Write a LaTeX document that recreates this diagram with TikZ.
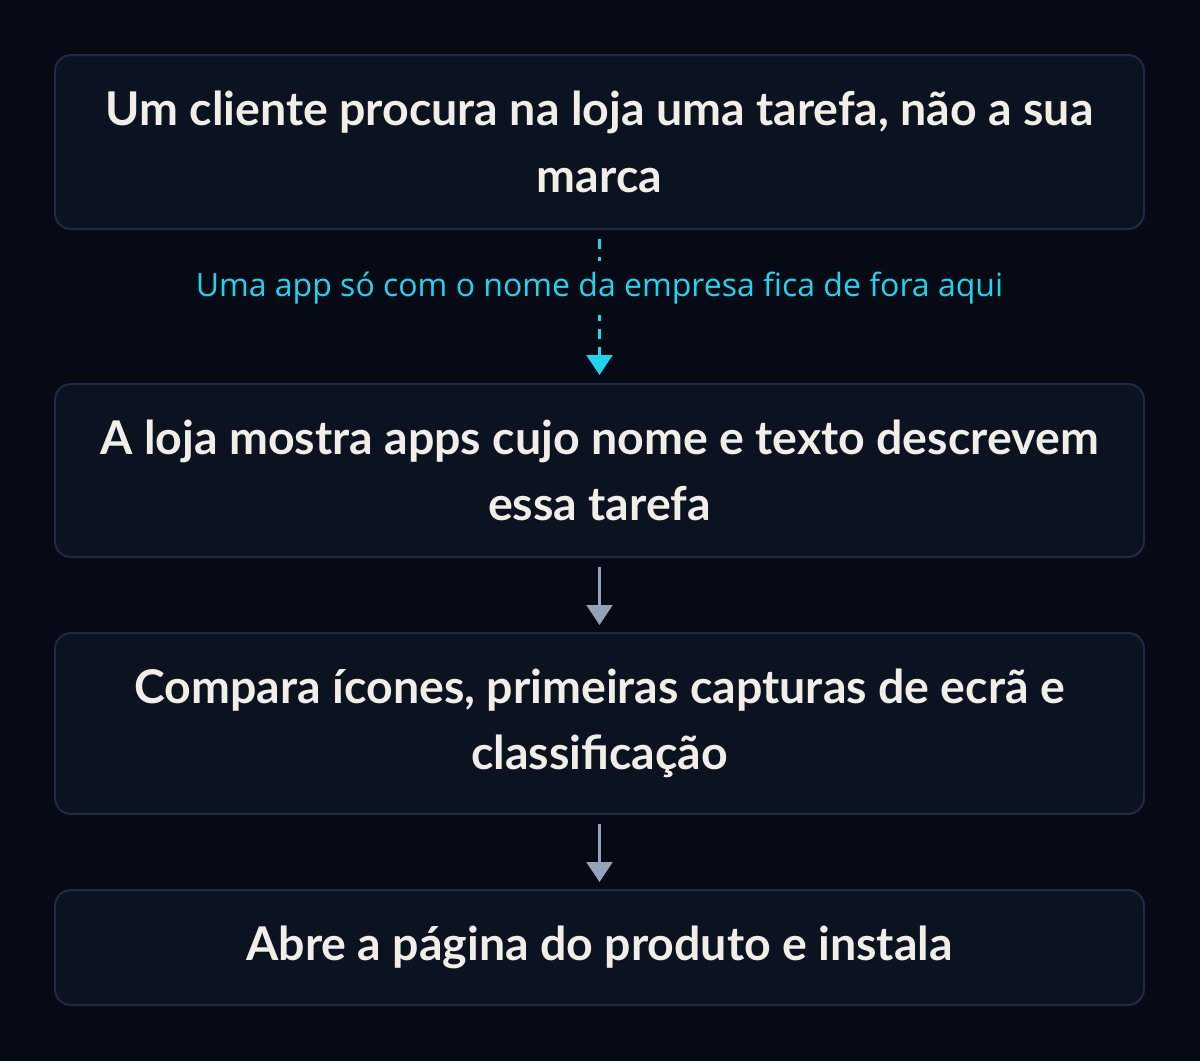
\documentclass[tikz,border=0pt]{standalone}
\usepackage{fontspec}
\setmainfont{Lato}
\newfontfamily\notefont{Open Sans}
\usetikzlibrary{arrows.meta}
\definecolor{pagebg}{HTML}{050A14}
\definecolor{boxfill}{HTML}{0B1220}
\definecolor{boxline}{HTML}{1F2B42}
\definecolor{boxtext}{HTML}{F1EEE8}
\definecolor{notecyan}{HTML}{22D3EE}
\definecolor{flowgrey}{HTML}{94A3B8}

\begin{document}
\begin{tikzpicture}[x=1pt,y=-1pt,
	stepbox/.style={draw=boxline,line width=2pt,fill=boxfill,rounded corners=16pt,
		minimum width=1089pt,inner sep=0pt,align=center,text=boxtext,
		font=\fontsize{46.5}{66.4}\selectfont\bfseries},
	flow/.style={draw=flowgrey,line width=2.5pt,-{Triangle[length=20pt,width=26pt]},
		shorten <=9pt,shorten >=7pt},
	skipflow/.style={draw=notecyan,line width=2.5pt,dash pattern=on 10pt off 8pt,
		-{Triangle[length=20pt,width=26pt]},shorten <=9pt,shorten >=8pt},
	note/.style={fill=pagebg,text=notecyan,inner xsep=4pt,inner ysep=11pt,
		font=\notefont\fontsize{32}{36}\selectfont}]

	\fill[pagebg] (0,0) rectangle (1200,1061);

	\node[stepbox,minimum height=174pt] (search)  at (599.5,142)   {Um cliente procura na loja uma tarefa, não a sua\\marca};
	\node[stepbox,minimum height=173pt] (results) at (599.5,470.5) {A loja mostra apps cujo nome e texto descrevem\\essa tarefa};
	\node[stepbox,minimum height=181pt] (compare) at (599.5,723.5) {Compara ícones, primeiras capturas de ecrã e\\classificação};
	\node[stepbox,minimum height=115pt] (install) at (599.5,947.5) {Abre a página do produto e instala};

	\path[skipflow] (search.south) -- node[note,pos=0.38] (brandonly) {Uma app só com o nome da empresa fica de fora aqui} (results.north);
	\path[flow] (results.south) -- (compare.north);
	\path[flow] (compare.south) -- (install.north);

\end{tikzpicture}
\end{document}
